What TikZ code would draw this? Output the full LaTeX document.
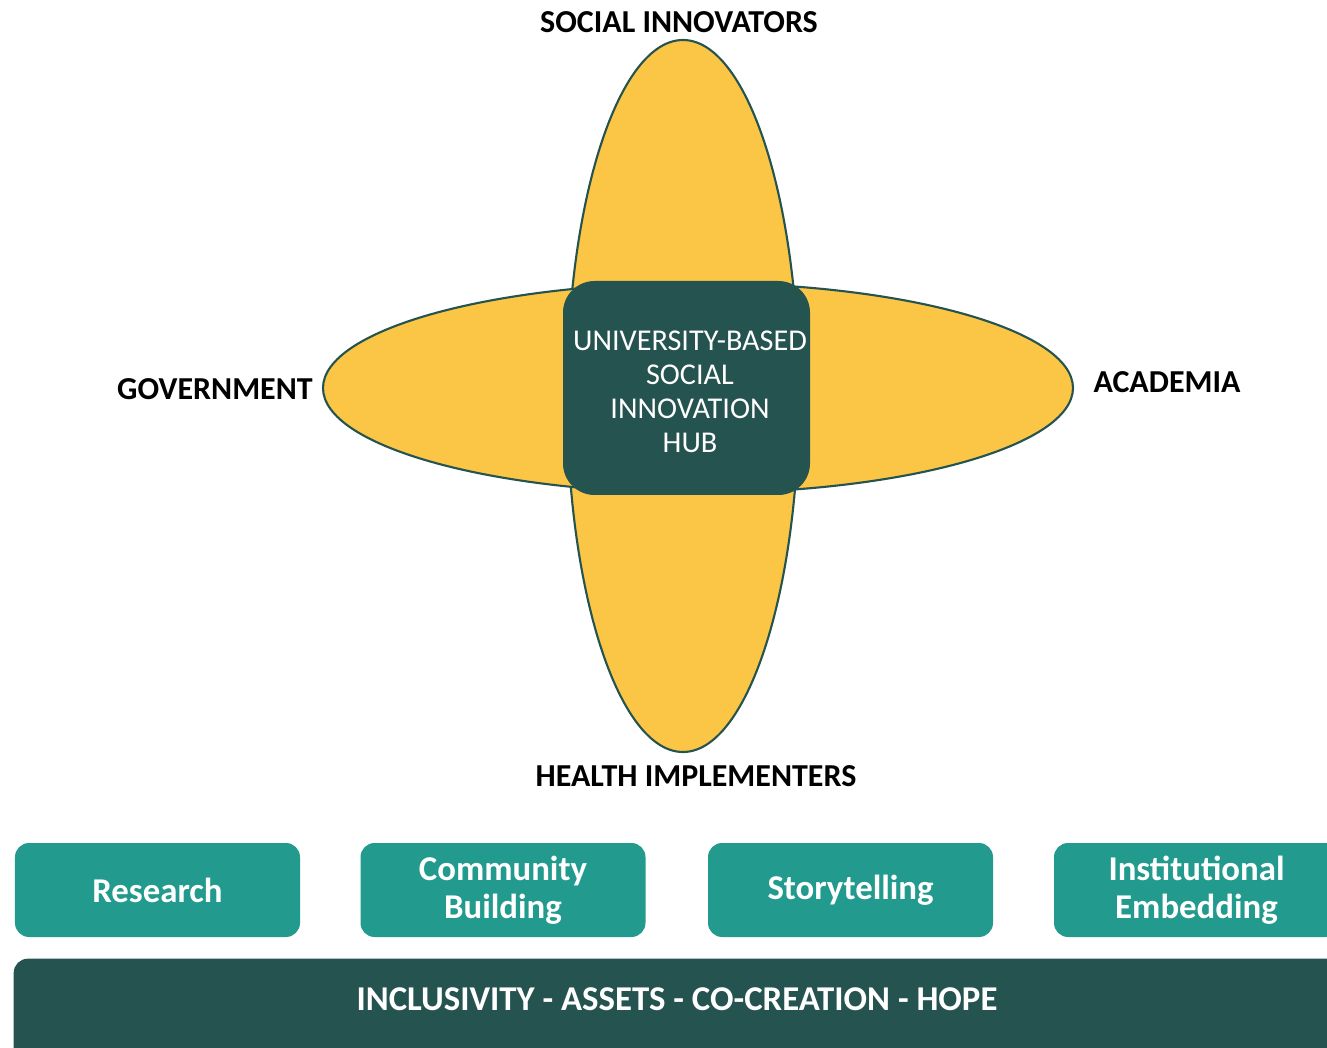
\documentclass[tikz,border=0pt]{standalone}
\usepackage{fontspec}
\setmainfont{Carlito}
\definecolor{petal}{RGB}{251, 197, 70}
\definecolor{hubteal}{RGB}{37, 83, 80}
\definecolor{pillar}{RGB}{34, 154, 141}
\usetikzlibrary{positioning}

\begin{document}
\begin{tikzpicture}[
  petalline/.style={draw=hubteal, line width=0.6pt, fill=petal},
  actor/.style={font=\fontsize{9.1}{10.9}\selectfont\bfseries, text=black},
  pillarbox/.style={fill=pillar, rounded corners=4pt, minimum width=2.85cm,
                    minimum height=0.94cm, align=center, text=white,
                    font=\fontsize{9.9}{10.8}\selectfont\bfseries},
]
\useasboundingbox (0, 0) rectangle (13.27, -10.48);
\clip (0, 0) rectangle (13.27, -10.48);
% Petals
\draw[petalline] (6.83, -3.96) ellipse (1.16cm and 3.56cm);
\draw[petalline] (6.98, -3.88) ellipse (3.75cm and 1.05cm);

% Hub
\node[fill=hubteal, rounded corners=9pt, minimum width=2.47cm, minimum height=2.14cm,
      text=white, font=\fontsize{8.6}{9.7}\selectfont] (hubbox) at (6.865, -3.88) {};
\node[align=center, text=white, font=\fontsize{8.6}{9.7}\selectfont] (hub) at (6.9, -3.92)
{UNIVERSITY-BASED\\SOCIAL\\INNOVATION\\HUB};

% Actors
\node[actor] (innov) at (6.79, -0.22) {SOCIAL INNOVATORS};
\node[actor] (gov) at (2.15, -3.89) {GOVERNMENT};
\node[actor] (acad) at (11.67, -3.82) {ACADEMIA};
\node[actor] (health) at (6.96, -7.76) {HEALTH IMPLEMENTERS};

% Pillars
\node[pillarbox] (research) at (1.575, -8.9) {Research};
\node[pillarbox] (community) at (5.03, -8.9) {Community\\Building};
\node[pillarbox] (story) at (8.505, -8.9) {Storytelling};
\node[pillarbox] (embed) at (11.965, -8.9) {Institutional\\Embedding};

% Values
\node[fill=hubteal, rounded corners=4pt, minimum width=13.3cm, minimum height=1.1cm,
      anchor=north west, inner sep=0pt] (values) at (0.13, -9.58) {};
\node[text=white, font=\fontsize{9.9}{11}\selectfont\bfseries] (valtext) at (6.77, -9.99)
{INCLUSIVITY - ASSETS - CO-CREATION - HOPE};
\end{tikzpicture}
\end{document}
